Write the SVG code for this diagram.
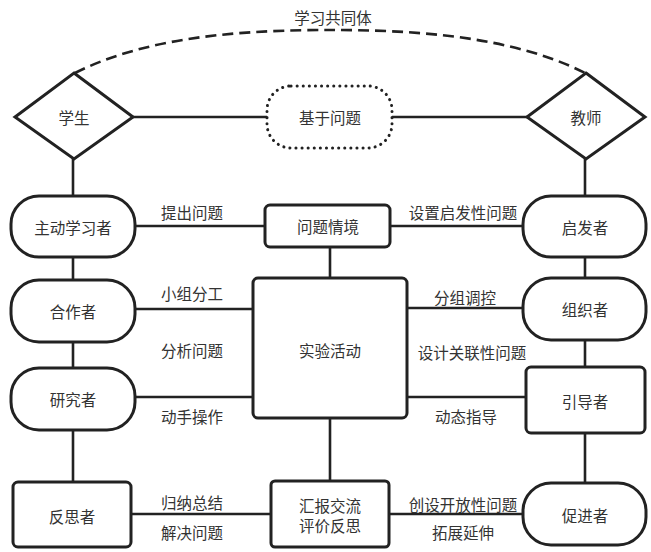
<svg xmlns="http://www.w3.org/2000/svg" width="651" height="552" viewBox="0 0 651 552">
<style>
text{font-family:"Noto Sans CJK SC","Noto Sans",sans-serif;font-size:15.5px;fill:#333;text-anchor:middle;dominant-baseline:central}
.n{fill:#fff;stroke:#222;stroke-width:3}
.c{fill:none;stroke:#222;stroke-width:2.6}
</style>
<rect width="651" height="552" fill="#fff"/>
<g id="connectors">
<path class="c" d="M75,73 C150,35 250,30 330,30 C410,30 510,35 585,73" stroke-dasharray="11 6" stroke-width="3.2"/>
<path class="c" d="M133,117H267M392,117H527"/>
<path class="c" d="M73,159V196M73,257V280M73,342V368M73,430V482"/>
<path class="c" d="M585,159V196M585,257V278M585,340V367M585,433V483"/>
<path class="c" d="M330,247V278M330,418V481"/>
<path class="c" d="M135,226H265M390,226H523M135,309H253M407,308H523M135,397H253M407,397H526M131,514H271M389,514H523"/>
</g>
<text x="333" y="17">学习共同体</text>
<g id="student"><polygon class="n" points="74,73 133,117 74,159 15,117"/><text x="74" y="117">学生</text></g>
<g id="teacher"><polygon class="n" points="586,73 645,117 586,159 527,117"/><text x="586" y="117">教师</text></g>
<g id="problem-based"><rect class="n" x="267" y="86" width="125" height="62" rx="24" stroke-width="3.6" stroke-dasharray="0.1 6" stroke-linecap="round"/><text x="330" y="117">基于问题</text></g>
<g id="situation"><rect class="n" x="265" y="205" width="125" height="42" rx="5"/><text x="328" y="226">问题情境</text></g>
<g id="experiment"><rect class="n" x="253" y="278" width="154" height="140" rx="5"/><text x="330" y="350">实验活动</text></g>
<g id="report"><rect class="n" x="271" y="481" width="118" height="66" rx="4"/><text x="330" y="505">汇报交流</text><text x="330" y="525">评价反思</text></g>
<g id="active-learner"><rect class="n" x="11" y="196" width="124" height="61" rx="28"/><text x="73" y="227">主动学习者</text></g>
<g id="cooperator"><rect class="n" x="11" y="280" width="124" height="62" rx="28"/><text x="73" y="311">合作者</text></g>
<g id="researcher"><rect class="n" x="11" y="368" width="124" height="62" rx="28"/><text x="73" y="399">研究者</text></g>
<g id="reflector"><rect class="n" x="13" y="482" width="118" height="65" rx="5"/><text x="72" y="516">反思者</text></g>
<g id="inspirer"><rect class="n" x="523" y="196" width="123" height="61" rx="28"/><text x="585" y="227">启发者</text></g>
<g id="organizer"><rect class="n" x="523" y="278" width="123" height="62" rx="28"/><text x="585" y="309">组织者</text></g>
<g id="guide"><rect class="n" x="526" y="367" width="119" height="66" rx="5"/><text x="585" y="401">引导者</text></g>
<g id="promoter"><rect class="n" x="523" y="483" width="123" height="62" rx="28"/><text x="585" y="515">促进者</text></g>
<g id="labels">
<text x="192" y="212">提出问题</text>
<text x="463" y="212">设置启发性问题</text>
<text x="192" y="293">小组分工</text>
<text x="465" y="297">分组调控</text>
<text x="192" y="350">分析问题</text>
<text x="472" y="352">设计关联性问题</text>
<text x="192" y="416">动手操作</text>
<text x="466" y="416">动态指导</text>
<text x="192" y="502">归纳总结</text>
<text x="192" y="532">解决问题</text>
<text x="463" y="504">创设开放性问题</text>
<text x="463" y="532">拓展延伸</text>
</g>
</svg>
